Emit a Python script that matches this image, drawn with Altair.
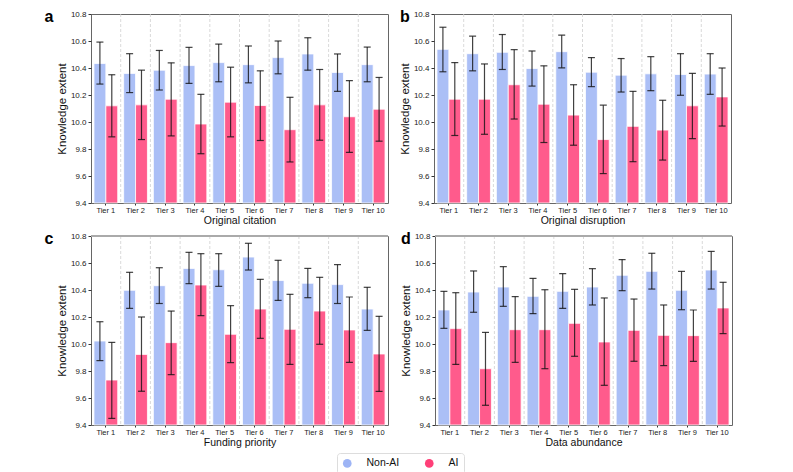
import altair as alt
import pandas as pd

TIERS = [f"Tier {i}" for i in range(1, 11)]
GROUPS = ["Non-AI", "AI"]
COLORS = ["#9db4f5", "#ff3f78"]
FONT = "Liberation Sans"
W, H = 297, 189

# Panel a: Original citation
a_na = [10.433, 10.360, 10.384, 10.418, 10.440, 10.425, 10.477, 10.504, 10.367, 10.425]
a_na_lo = [10.281, 10.218, 10.237, 10.286, 10.298, 10.290, 10.357, 10.384, 10.227, 10.298]
a_na_hi = [10.592, 10.506, 10.530, 10.553, 10.577, 10.563, 10.600, 10.624, 10.504, 10.555]
a_ai = [10.120, 10.127, 10.169, 9.985, 10.147, 10.122, 9.943, 10.127, 10.039, 10.095]
a_ai_lo = [9.890, 9.870, 9.897, 9.765, 9.890, 9.863, 9.704, 9.865, 9.775, 9.858]
a_ai_hi = [10.350, 10.384, 10.438, 10.205, 10.406, 10.379, 10.183, 10.389, 10.306, 10.330]

# Panel b: Original disruption
b_na = [10.538, 10.506, 10.516, 10.396, 10.521, 10.369, 10.347, 10.357, 10.352, 10.355]
b_na_lo = [10.372, 10.379, 10.389, 10.266, 10.401, 10.262, 10.222, 10.232, 10.198, 10.205]
b_na_hi = [10.702, 10.636, 10.648, 10.526, 10.643, 10.477, 10.470, 10.484, 10.506, 10.506]
b_ai = [10.169, 10.169, 10.276, 10.132, 10.051, 9.870, 9.968, 9.940, 10.120, 10.186]
b_ai_lo = [9.900, 9.909, 10.022, 9.848, 9.828, 9.618, 9.706, 9.718, 9.877, 9.970]
b_ai_hi = [10.440, 10.430, 10.536, 10.416, 10.276, 10.125, 10.227, 10.161, 10.360, 10.400]

# Panel c: Funding priority
c_na = [10.022, 10.398, 10.432, 10.560, 10.550, 10.644, 10.470, 10.450, 10.440, 10.259]
c_na_lo = [9.877, 10.264, 10.300, 10.447, 10.427, 10.548, 10.323, 10.343, 10.300, 10.101]
c_na_hi = [10.165, 10.531, 10.565, 10.679, 10.669, 10.746, 10.620, 10.560, 10.588, 10.420]
c_ai = [9.733, 9.923, 10.010, 10.437, 10.072, 10.259, 10.109, 10.244, 10.104, 9.926]
c_ai_lo = [9.449, 9.650, 9.773, 10.210, 9.862, 10.042, 9.849, 9.998, 9.864, 9.649]
c_ai_hi = [10.012, 10.200, 10.244, 10.669, 10.284, 10.479, 10.368, 10.494, 10.348, 10.205]

# Panel d: Data abundance
d_na = [10.252, 10.385, 10.422, 10.353, 10.390, 10.422, 10.509, 10.538, 10.398, 10.548]
d_na_lo = [10.116, 10.235, 10.279, 10.225, 10.264, 10.289, 10.395, 10.407, 10.254, 10.407]
d_na_hi = [10.390, 10.541, 10.573, 10.486, 10.521, 10.558, 10.625, 10.672, 10.538, 10.686]
d_ai = [10.114, 9.817, 10.106, 10.106, 10.153, 10.015, 10.101, 10.064, 10.062, 10.267]
d_ai_lo = [9.849, 9.546, 9.864, 9.817, 9.909, 9.694, 9.872, 9.840, 9.872, 10.077]
d_ai_hi = [10.380, 10.086, 10.351, 10.402, 10.405, 10.341, 10.333, 10.289, 10.252, 10.457]

Y_TICKS = [9.4, 9.6, 9.8, 10.0, 10.2, 10.4, 10.6, 10.8]

LEGEND = alt.Legend(
    title=None, orient="none", legendX=246, legendY=439, direction="horizontal",
    symbolType="circle", symbolSize=75, symbolStrokeWidth=0, symbolOpacity=1,
    labelFont=FONT, labelFontSize=10.5, labelColor="#111",
    strokeColor="#dddddd", fillColor="white", cornerRadius=3, padding=5,
    columnPadding=24, labelOffset=14,
)


def panel(letter, xtitle, na, na_lo, na_hi, ai, ai_lo, ai_hi, lab_dx, top_rule):
    rows = []
    for i, t in enumerate(TIERS):
        rows.append(dict(tier=t, group="Non-AI", value=na[i], lo=na_lo[i], hi=na_hi[i]))
        rows.append(dict(tier=t, group="AI", value=ai[i], lo=ai_lo[i], hi=ai_hi[i]))
    df = pd.DataFrame(rows)

    xscale = alt.Scale(domain=TIERS, paddingInner=0, paddingOuter=0)
    xoff = alt.XOffset("group:N", sort=GROUPS,
                       scale=alt.Scale(domain=GROUPS, paddingInner=0, paddingOuter=0.25))
    yscale = alt.Scale(domain=[9.4, 10.8], nice=False, zero=False)

    x_axis = alt.Axis(title=xtitle, labelAngle=0, labelFontSize=7.5, titleFontSize=10.5,
                      tickSize=2, labelPadding=1, titlePadding=2)
    y_axis = alt.Axis(title="Knowledge extent", values=Y_TICKS, format=".1f",
                      labelFontSize=8, titleFontSize=11.5, tickSize=3,
                      labelPadding=2, titlePadding=3)

    def X(**kw):
        return alt.X("tier:N", scale=xscale, axis=x_axis, sort=TIERS, **kw)

    def Y(field):
        return alt.Y(field, scale=yscale, axis=y_axis)

    base = alt.Chart(df)

    bars = base.mark_bar(opacity=0.85, stroke="white", strokeWidth=0.8).encode(
        x=X(),
        xOffset=xoff,
        y=Y("value:Q"),
        y2=alt.datum(9.4),
        color=alt.Color("group:N", sort=GROUPS,
                        scale=alt.Scale(domain=GROUPS, range=COLORS), legend=LEGEND),
    )

    grid = alt.Chart(pd.DataFrame({"tier": TIERS[1:]})).mark_rule(
        strokeDash=[3, 2], color="#cfcfcf", strokeWidth=0.8
    ).encode(
        x=X(bandPosition=0),
        y=alt.value(0), y2=alt.value(H),
    )

    rules = base.mark_rule(color="#111111", strokeWidth=1.2, opacity=0.8).encode(
        x=X(), xOffset=xoff, y=Y("lo:Q"), y2="hi:Q",
    )
    cap_lo = base.mark_tick(color="#111111", thickness=1.2, size=7, opacity=0.8).encode(
        x=X(), xOffset=xoff, y=Y("lo:Q"),
    )
    cap_hi = base.mark_tick(color="#111111", thickness=1.2, size=7, opacity=0.8).encode(
        x=X(), xOffset=xoff, y=Y("hi:Q"),
    )

    label = alt.Chart(pd.DataFrame({"t": [letter]})).mark_text(
        fontSize=16, fontWeight="bold", font=FONT, align="center", baseline="middle",
        color="black"
    ).encode(text="t:N", x=alt.value(lab_dx), y=alt.value(3))

    layers = [bars, grid, rules, cap_lo, cap_hi, label]
    if top_rule:
        layers.append(
            alt.Chart(pd.DataFrame({"k": [0]})).mark_rule(color="#aaaaaa", strokeWidth=2).encode(
                x=alt.value(0), x2=alt.value(W), y=alt.value(0)
            )
        )
    return alt.layer(*layers).properties(width=W, height=H)


pa = panel("a", "Original citation", a_na, a_na_lo, a_na_hi, a_ai, a_ai_lo, a_ai_hi, -42, False)
pb = panel("b", "Original disruption", b_na, b_na_lo, b_na_hi, b_ai, b_ai_lo, b_ai_hi, -29, False)
pc = panel("c", "Funding priority", c_na, c_na_lo, c_na_hi, c_ai, c_ai_lo, c_ai_hi, -42, True)
pd_ = panel("d", "Data abundance", d_na, d_na_lo, d_na_hi, d_ai, d_ai_lo, d_ai_hi, -29, True)

top = alt.hconcat(pa, pb, spacing=9)
bottom = alt.hconcat(pc, pd_, spacing=9)

chart = alt.vconcat(top, bottom, spacing=3).properties(
    padding={"left": 36, "top": 0, "right": 5, "bottom": 0}
).configure_view(
    stroke="#666666", strokeWidth=1
).configure_axis(
    labelFont=FONT, titleFont=FONT, labelColor="#222222", titleColor="#111111",
    tickColor="#333333", domain=False, grid=False, titleFontWeight="normal",
)

chart.save("out.html", embed_options={"renderer": "svg", "actions": False})
